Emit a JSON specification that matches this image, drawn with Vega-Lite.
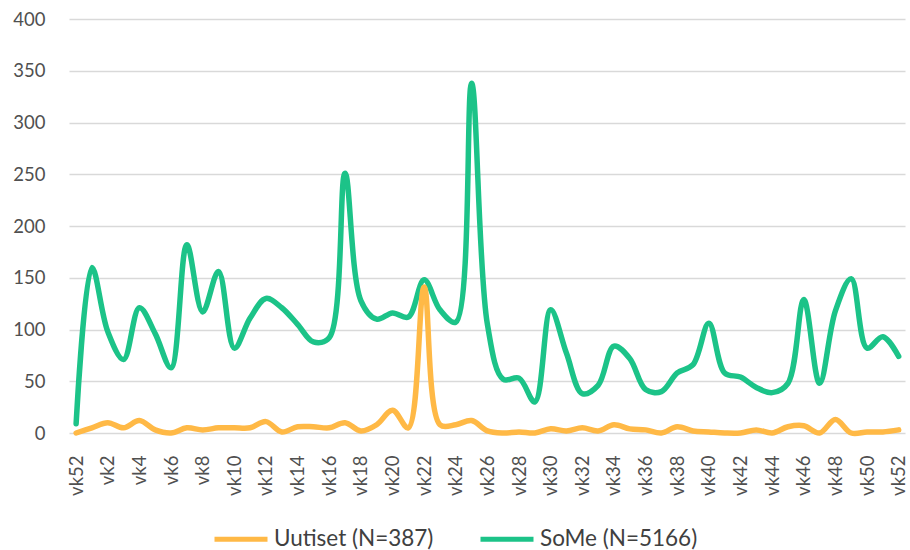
{
  "$schema": "https://vega.github.io/schema/vega-lite/v6.json",
  "width": 836,
  "height": 414,
  "autosize": {"type": "none"},
  "padding": {"left": 69, "top": 19, "right": 5, "bottom": 117},
  "background": "white",
  "config": {
    "view": {"stroke": null},
    "font": "Lato",
    "axis": {"labelFont": "Lato", "labelColor": "#505050", "labelFontSize": 18.5}
  },
  "data": {"values": [
    {"i":0,"s":"SoMe (N=5166)","v":9},{"i":1,"s":"SoMe (N=5166)","v":160},{"i":2,"s":"SoMe (N=5166)","v":98},{"i":3,"s":"SoMe (N=5166)","v":71},{"i":4,"s":"SoMe (N=5166)","v":121},{"i":5,"s":"SoMe (N=5166)","v":96},{"i":6,"s":"SoMe (N=5166)","v":63},{"i":7,"s":"SoMe (N=5166)","v":182},{"i":8,"s":"SoMe (N=5166)","v":117},{"i":9,"s":"SoMe (N=5166)","v":156},{"i":10,"s":"SoMe (N=5166)","v":82},{"i":11,"s":"SoMe (N=5166)","v":111},{"i":12,"s":"SoMe (N=5166)","v":130},{"i":13,"s":"SoMe (N=5166)","v":121},{"i":14,"s":"SoMe (N=5166)","v":105},{"i":15,"s":"SoMe (N=5166)","v":88},{"i":16,"s":"SoMe (N=5166)","v":92},{"i":17,"s":"SoMe (N=5166)","v":251},{"i":18,"s":"SoMe (N=5166)","v":128},{"i":19,"s":"SoMe (N=5166)","v":110},{"i":20,"s":"SoMe (N=5166)","v":116},{"i":21,"s":"SoMe (N=5166)","v":112},{"i":22,"s":"SoMe (N=5166)","v":148},{"i":23,"s":"SoMe (N=5166)","v":119},{"i":24,"s":"SoMe (N=5166)","v":107},{"i":25,"s":"SoMe (N=5166)","v":338},{"i":26,"s":"SoMe (N=5166)","v":105},{"i":27,"s":"SoMe (N=5166)","v":52},{"i":28,"s":"SoMe (N=5166)","v":53},{"i":29,"s":"SoMe (N=5166)","v":30},{"i":30,"s":"SoMe (N=5166)","v":119},{"i":31,"s":"SoMe (N=5166)","v":77},{"i":32,"s":"SoMe (N=5166)","v":38},{"i":33,"s":"SoMe (N=5166)","v":46},{"i":34,"s":"SoMe (N=5166)","v":84},{"i":35,"s":"SoMe (N=5166)","v":72},{"i":36,"s":"SoMe (N=5166)","v":42},{"i":37,"s":"SoMe (N=5166)","v":40},{"i":38,"s":"SoMe (N=5166)","v":58},{"i":39,"s":"SoMe (N=5166)","v":66},{"i":40,"s":"SoMe (N=5166)","v":106},{"i":41,"s":"SoMe (N=5166)","v":58},{"i":42,"s":"SoMe (N=5166)","v":54},{"i":43,"s":"SoMe (N=5166)","v":44},{"i":44,"s":"SoMe (N=5166)","v":39},{"i":45,"s":"SoMe (N=5166)","v":48},{"i":46,"s":"SoMe (N=5166)","v":129},{"i":47,"s":"SoMe (N=5166)","v":48},{"i":48,"s":"SoMe (N=5166)","v":118},{"i":49,"s":"SoMe (N=5166)","v":149},{"i":50,"s":"SoMe (N=5166)","v":82},{"i":51,"s":"SoMe (N=5166)","v":93},{"i":52,"s":"SoMe (N=5166)","v":74},
    {"i":0,"s":"Uutiset (N=387)","v":0},{"i":1,"s":"Uutiset (N=387)","v":5},{"i":2,"s":"Uutiset (N=387)","v":10},{"i":3,"s":"Uutiset (N=387)","v":5},{"i":4,"s":"Uutiset (N=387)","v":12},{"i":5,"s":"Uutiset (N=387)","v":3},{"i":6,"s":"Uutiset (N=387)","v":0},{"i":7,"s":"Uutiset (N=387)","v":5},{"i":8,"s":"Uutiset (N=387)","v":3},{"i":9,"s":"Uutiset (N=387)","v":5},{"i":10,"s":"Uutiset (N=387)","v":5},{"i":11,"s":"Uutiset (N=387)","v":5},{"i":12,"s":"Uutiset (N=387)","v":11},{"i":13,"s":"Uutiset (N=387)","v":1},{"i":14,"s":"Uutiset (N=387)","v":6},{"i":15,"s":"Uutiset (N=387)","v":6},{"i":16,"s":"Uutiset (N=387)","v":5},{"i":17,"s":"Uutiset (N=387)","v":10},{"i":18,"s":"Uutiset (N=387)","v":2},{"i":19,"s":"Uutiset (N=387)","v":8},{"i":20,"s":"Uutiset (N=387)","v":22},{"i":21,"s":"Uutiset (N=387)","v":5},{"i":22,"s":"Uutiset (N=387)","v":141},{"i":23,"s":"Uutiset (N=387)","v":8},{"i":24,"s":"Uutiset (N=387)","v":8},{"i":25,"s":"Uutiset (N=387)","v":12},{"i":26,"s":"Uutiset (N=387)","v":2},{"i":27,"s":"Uutiset (N=387)","v":0},{"i":28,"s":"Uutiset (N=387)","v":1},{"i":29,"s":"Uutiset (N=387)","v":0},{"i":30,"s":"Uutiset (N=387)","v":4},{"i":31,"s":"Uutiset (N=387)","v":2},{"i":32,"s":"Uutiset (N=387)","v":5},{"i":33,"s":"Uutiset (N=387)","v":2},{"i":34,"s":"Uutiset (N=387)","v":8},{"i":35,"s":"Uutiset (N=387)","v":4},{"i":36,"s":"Uutiset (N=387)","v":3},{"i":37,"s":"Uutiset (N=387)","v":0},{"i":38,"s":"Uutiset (N=387)","v":6},{"i":39,"s":"Uutiset (N=387)","v":2},{"i":40,"s":"Uutiset (N=387)","v":1},{"i":41,"s":"Uutiset (N=387)","v":0},{"i":42,"s":"Uutiset (N=387)","v":0},{"i":43,"s":"Uutiset (N=387)","v":3},{"i":44,"s":"Uutiset (N=387)","v":0},{"i":45,"s":"Uutiset (N=387)","v":6},{"i":46,"s":"Uutiset (N=387)","v":7},{"i":47,"s":"Uutiset (N=387)","v":0},{"i":48,"s":"Uutiset (N=387)","v":13},{"i":49,"s":"Uutiset (N=387)","v":0},{"i":50,"s":"Uutiset (N=387)","v":1},{"i":51,"s":"Uutiset (N=387)","v":1},{"i":52,"s":"Uutiset (N=387)","v":3}
  ]},
  "mark": {"type": "line", "interpolate": "catmull-rom", "strokeWidth": 5.5, "strokeCap": "round", "strokeJoin": "round"},
  "encoding": {
    "x": {
      "field": "i", "type": "quantitative",
      "scale": {"domain": [-0.45, 52.4], "nice": false, "zero": false},
      "axis": {
        "title": null, "grid": false, "ticks": false, "domain": false,
        "values": [0,2,4,6,8,10,12,14,16,18,20,22,24,26,28,30,32,34,36,38,40,42,44,46,48,50,52],
        "labelExpr": "datum.value == 0 ? 'vk52' : 'vk' + datum.value",
        "labelAngle": -90, "labelAlign": "right", "labelBaseline": "middle",
        "labelPadding": 22, "labelFlush": false, "labelOverlap": false
      }
    },
    "y": {
      "field": "v", "type": "quantitative",
      "scale": {"domain": [0, 400], "nice": false},
      "axis": {
        "title": null, "ticks": false, "domain": false,
        "values": [0,50,100,150,200,250,300,350,400],
        "gridColor": "#d9d9d9", "gridWidth": 1.5, "labelPadding": 24
      }
    },
    "color": {
      "field": "s", "type": "nominal",
      "scale": {"domain": ["Uutiset (N=387)", "SoMe (N=5166)"], "range": ["#FFB946", "#1CC388"]},
      "legend": {
        "title": null, "orient": "none", "direction": "horizontal",
        "legendX": 143, "legendY": 491,
        "symbolType": "stroke", "symbolSize": 2809, "symbolStrokeWidth": 5,
        "labelFontSize": 22.5, "labelColor": "#404040", "labelFont": "Lato",
        "columnPadding": 36, "labelOffset": 4
      }
    },
    "order": {"field": "s", "sort": "descending"}
  }
}
